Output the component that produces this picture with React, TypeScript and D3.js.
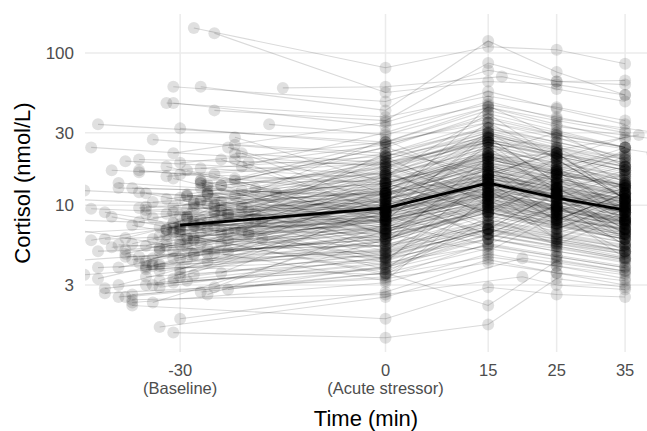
import React from 'react';
import * as d3 from 'd3';

// Baseline sampling time (min) per participant
const tBase = [
  -30,-28,-33,-25,-38,-22,-31,-27,-35,-20,
  -29,-41,-24,-32,-26,-36,-19,-30,-34,-23,
  -43,-28,-31,-21,-37,-27,-25,-33,-30,-17,
  -39,-26,-29,-35,-22,-31,-24,-42,-28,-32,
  -20,-34,-27,-30,-36,-25,-47,-29,-23,-38,
  -31,-26,-33,-28,-40,-21,-30,-35,-24,-27,
  -15,-32,-29,-37,-25,-44,-30,-22,-34,-28,
  -26,-31,-39,-23,-29,-36,-27,-50,-33,-24,
  -30,-19,-35,-28,-41,-26,-32,-22,-29,-37,
  -25,-31,-34,-27,-43,-30,-21,-38,-28,-33,
  -24,-29,-36,-26,-31,-18,-35,-27,-40,-30,
  -23,-32,-28,-37,-25,-45,-29,-34,-22,-31,
  -27,-39,-30,-24,-33,-26,-42,-28,-20,-35,
  -31,-25,-38,-29,-23,-32,-27,-36,-30,-16,
  -26,-34,-28,-41,-24,-31,-22,-37,-29,-33,
  -27,-44,-30,-25,-35,-21,-32,-28,-39,-26,
  -48,-31,-24,-34,-29,-37,-23,-30,-27,-33,
  -36,-25,-31,-42,-28,-20,-35,-26,-30,-32,
  -33,-27,-38,-22,-30,-41,-25,-35,-29,-19,
  -32,-24,-37,-28,-43,-26,-31,-21,-34,-29,
  -36,-23,-30,-40,-27,-33,-18,-31,-25,-39,
  -28,-35,-22,-32,-46,-26,-30,-37,-24,-29,
  -34,-20,-31,-27,-38,-25,-33,-42,-29,-23,
  -30,-36,-26,-32,-21,-39,-28,-35,-24,-31,
];

const cBase = [
  7.2,146,4.1,135,2.5,11.5,60,5.6,9.3,6.4,
  8.5,2.85,13.5,47,4.8,17.0,7.8,1.8,10.5,2.8,
  24,6.0,3.3,12.5,2.3,60,8.9,5.2,16.0,34,
  2.5,7.0,4.4,9.8,14.5,1.46,6.8,34,5.9,11.0,
  8.0,3.0,7.5,19.0,4.6,42,11.0,6.2,9.0,19.5,
  5.0,12.0,3.7,7.6,17.0,9.5,32,4.0,6.5,14.0,
  59,5.4,8.2,2.2,10.0,3.5,6.9,15.0,4.5,7.3,
  11.8,47,5.5,8.7,3.2,20.0,6.6,4.2,1.59,9.2,
  7.1,12.8,3.9,6.3,2.65,10.2,5.8,25.0,8.4,13.0,
  4.9,7.7,6.0,10.8,9.5,3.6,18.0,5.1,7.4,2.9,
  9.7,6.1,12.2,4.3,22.0,7.9,3.4,8.1,5.3,11.2,
  6.7,15.5,4.7,2.6,9.1,8.0,5.7,27.0,7.0,3.1,
  10.6,14.0,6.4,8.6,4.0,13.2,5.0,7.9,19.0,3.8,
  6.8,9.9,4.6,11.5,5.9,8.8,2.7,16.5,7.5,12.0,
  5.2,8.3,3.5,6.0,10.5,7.2,22.0,4.4,9.4,6.3,
  14.5,12.5,5.5,8.0,3.0,10.0,6.9,4.8,13.0,7.7,
  6.5,9.0,5.6,4.1,11.8,2.4,8.5,6.7,17.5,5.0,
  9.6,7.3,4.5,3.9,10.3,6.6,8.8,13.8,5.8,7.0,
  3.2,14.0,6.1,20.0,4.5,9.0,2.9,12.0,5.3,8.8,
  18.0,3.6,7.4,10.5,5.9,2.6,15.0,6.8,4.0,11.5,
  7.8,24.0,3.4,8.4,13.0,5.2,6.0,9.8,16.0,3.0,
  10.0,4.3,28.0,6.4,7.0,12.5,3.8,5.6,20.0,8.2,
  2.3,9.3,6.6,14.5,4.8,11.0,7.2,3.3,17.0,5.0,
  8.6,4.2,12.0,6.9,22.0,3.9,9.5,5.4,13.5,7.6,
];

const c0 = [
  9.5,80,5.8,55,3.6,14.0,48,8.2,10.5,12.0,
  7.2,4.5,18.0,38,6.5,12.0,15.5,2.7,13.5,4.0,
  18.0,7.8,4.9,21.0,3.1,42,9.8,7.0,20.0,29,
  3.9,11.0,4.9,8.8,24.0,1.35,9.0,26,6.2,16.5,
  13.0,4.2,7.0,26.0,6.0,36,9.0,10.0,12.5,16.0,
  5.5,10.5,5.5,12.0,14.0,17.0,25,3.5,8.6,14.5,
  60,8.0,9.4,1.8,12.5,5.0,6.5,26.0,7.2,10.0,
  15.0,33,4.5,11.5,3.8,18.5,9.7,6.0,2.5,14.0,
  8.4,20.0,5.2,7.5,3.3,11.0,9.0,22.0,10.8,11.5,
  7.4,12.5,5.4,13.0,8.0,6.0,30.0,7.3,8.0,4.6,
  15.5,8.3,9.5,5.8,35.0,10.4,4.3,13.5,6.8,14.0,
  10.0,19.0,6.3,3.4,11.0,6.8,8.8,21.0,11.5,3.9,
  12.0,11.0,9.3,9.0,6.6,17.5,5.4,10.6,25.0,4.4,
  8.0,16.0,5.0,13.8,9.5,7.8,3.6,21.0,9.2,18.0,
  7.6,12.0,4.8,7.0,9.2,11.0,19.0,6.1,13.0,8.1,
  16.0,10.0,8.6,10.2,4.1,17.5,7.7,6.9,11.8,11.8,
  8.5,10.0,8.0,5.1,19.0,2.6,13.0,7.9,15.0,6.7,
  12.2,9.6,6.4,4.7,14.5,10.8,8.4,22.0,7.8,9.0,
  9.5,6.5,16.0,9.0,11.0,4.5,7.5,5.8,14.0,22.0,
  8.0,10.0,3.6,18.0,12.0,6.0,7.0,15.0,11.5,5.2,
  16.5,12.0,9.0,4.0,24.0,13.5,3.8,17.0,7.5,8.5,
  5.0,12.5,14.0,15.5,3.2,6.5,10.5,14.0,9.0,4.2,
  6.8,20.0,3.5,8.0,12.0,5.5,19.0,9.0,8.5,13.0,
  4.4,11.0,6.0,21.0,10.0,8.8,4.6,16.0,6.5,27.0,
];

const c15 = [
  14.2,110,9.0,65,5.2,22.0,77,12.5,13.0,19.5,
  10.0,7.0,28.0,52,8.8,15.5,24.0,4.4,20.0,6.1,
  26.0,11.8,7.5,33.0,4.8,120,15.0,10.5,30.0,44,
  6.4,17.0,6.6,12.0,40.0,1.65,13.5,35,9.2,25.0,
  21.0,5.4,9.5,42.0,9.8,86,12.5,15.5,18.5,22.0,
  8.0,16.0,8.5,18.0,20.0,27.0,37,4.6,13.0,19.0,
  70,12.0,14.0,2.9,22.0,7.8,8.5,44.0,11.0,16.0,
  24.0,46,6.0,17.0,5.5,27.0,15.5,9.0,4.5,21.0,
  12.2,31.0,8.0,10.8,4.2,15.0,14.5,32.0,16.5,17.0,
  11.5,20.0,7.2,19.0,11.0,9.5,48.0,10.2,11.8,7.0,
  25.0,12.0,13.5,9.0,56.0,14.0,6.8,21.5,9.8,20.5,
  15.8,27.0,9.4,5.6,16.0,9.0,14.0,28.0,18.5,6.0,
  17.5,15.0,14.8,12.8,10.5,26.0,7.6,16.2,38.0,6.4,
  11.2,26.0,7.0,21.0,15.0,10.4,2.2,32.0,13.5,29.0,
  11.8,19.0,7.3,10.0,13.0,17.5,26.0,9.6,20.0,11.0,
  23.0,14.0,13.2,15.0,6.5,29.0,10.6,10.8,16.0,18.0,
  12.8,14.5,12.4,7.7,30.0,3.4,20.5,11.5,21.0,10.2,
  18.0,14.4,10.0,6.9,22.5,17.0,11.6,35.0,11.5,13.8,
  12.0,15.0,11.0,28.0,20.0,10.0,5.5,14.0,9.0,17.0,
  25.0,6.5,8.5,11.0,30.0,9.5,16.0,12.0,22.0,10.0,
  9.0,35.0,19.0,7.0,15.0,26.0,11.0,8.5,18.0,6.0,
  14.0,7.0,22.0,40.0,11.5,5.0,24.0,9.0,13.0,16.0,
  13.0,11.5,8.0,26.0,6.0,21.0,10.5,18.0,30.0,7.5,
  12.5,6.5,18.0,10.0,45.0,14.0,7.0,28.0,16.0,13.0,
];

const c25 = [
  11.8,105,7.5,62,4.4,17.5,65,9.8,11.0,15.0,
  8.6,5.6,22.0,44,7.4,13.2,18.5,3.6,16.5,5.0,
  21.0,9.5,6.2,26.0,4.0,75,12.5,8.4,23.0,36,
  5.3,13.5,5.8,10.0,31.0,3.3,11.0,29,7.8,20.0,
  16.5,4.6,8.2,33.0,8.0,65,10.5,12.2,15.0,18.0,
  6.8,13.0,7.0,14.5,16.0,21.0,29,4.0,10.4,16.0,
  58,9.6,11.5,2.6,17.0,6.5,7.2,34.0,9.0,12.8,
  19.0,38,5.2,13.8,4.6,22.0,12.4,7.3,4.2,16.5,
  10.0,24.0,6.6,9.0,3.6,12.8,11.5,26.0,13.2,14.0,
  9.3,16.0,6.2,15.4,9.2,7.6,37.0,8.5,9.8,5.8,
  19.5,9.8,11.3,7.4,43.0,11.8,5.6,17.0,8.0,16.8,
  12.6,22.0,7.7,4.7,13.0,7.6,11.0,24.0,14.6,5.0,
  14.2,12.5,11.8,10.6,8.5,21.0,6.4,12.9,30.0,5.4,
  9.3,20.5,6.0,16.8,12.0,8.8,4.3,25.0,11.0,23.0,
  9.5,15.0,6.0,8.3,10.9,14.0,21.5,7.8,16.0,9.2,
  19.0,11.6,10.6,12.2,5.4,22.5,8.9,8.7,13.4,14.4,
  10.4,11.8,10.0,6.3,23.5,3.0,16.2,9.4,17.5,8.3,
  14.6,11.6,8.2,5.7,18.0,13.5,9.7,27.5,9.4,11.2,
  16.0,9.0,13.0,14.0,22.0,6.5,9.0,20.0,7.0,11.0,
  18.0,10.0,5.5,16.0,17.0,13.0,9.5,20.0,13.0,7.0,
  14.0,20.0,11.0,10.0,24.0,12.0,6.0,15.0,10.0,9.0,
  8.0,12.0,30.0,20.0,7.0,8.5,12.0,16.0,8.0,22.0,
  6.0,17.0,12.0,15.0,10.0,13.0,18.0,8.0,21.0,11.5,
  7.5,10.0,11.0,17.0,28.0,8.0,12.0,14.0,22.0,9.0,
];

const c35 = [
  9.6,85,6.0,53,3.7,14.0,66,8.1,9.2,12.2,
  7.5,4.8,17.0,36,6.2,11.0,14.5,3.0,13.0,4.3,
  17.0,7.9,5.0,20.5,3.3,53,10.2,6.8,29,30,
  4.4,10.8,5.0,8.5,24.0,2.9,9.0,24,6.6,16.0,
  13.2,3.9,7.0,27.0,6.5,62,9.0,9.9,12.0,15.0,
  5.7,10.8,5.7,11.5,13.5,17.0,24,3.5,8.5,13.5,
  48,7.9,9.4,2.5,13.5,5.4,6.0,27.0,7.2,10.3,
  15.2,31,4.4,11.0,3.9,18.0,10.0,6.0,3.6,13.5,
  8.2,19.0,5.5,7.5,3.2,10.6,9.2,21.0,10.8,11.6,
  7.6,12.8,5.3,12.6,7.8,6.2,29.0,7.0,8.2,4.9,
  15.5,8.0,9.4,6.0,34.0,9.8,4.6,13.8,6.6,13.6,
  10.2,18.0,6.4,4.0,10.5,6.4,9.0,20.0,11.8,4.2,
  11.5,10.5,9.6,8.8,7.0,17.0,5.3,10.5,24.0,4.5,
  7.7,16.5,5.0,13.5,9.8,7.4,3.7,20.0,9.0,18.5,
  7.8,12.2,5.0,6.9,9.0,11.3,17.8,6.4,13.0,7.6,
  15.5,9.8,8.6,10.0,4.5,18.0,7.4,7.1,11.0,11.7,
  8.5,9.7,8.2,5.2,19.0,2.8,13.0,7.8,14.5,6.9,
  11.9,9.5,6.7,4.8,14.6,11.0,8.0,22.0,7.7,9.2,
  10.0,12.5,8.0,18.0,12.0,9.5,5.5,11.0,10.0,6.5,
  22.0,6.0,8.5,9.5,24.0,7.5,13.0,11.0,8.0,10.5,
  8.5,28.0,6.5,13.0,14.0,17.0,9.0,8.0,14.0,4.5,
  12.0,7.0,18.0,11.0,10.5,5.0,7.0,22.0,12.0,11.0,
  9.5,8.0,6.5,23.0,5.5,16.0,9.0,12.0,13.0,7.0,
  11.5,5.5,16.0,9.0,20.0,12.0,6.0,21.0,11.0,14.0,
];

// Participants sampled off-schedule: [participant index, actual time]
const shift15: [number, number][] = [[60, 17], [78, 20], [165, 20]];
const shift35: [number, number][] = [[28, 37], [43, 40], [96, 42], [177, 39]];

// Group mean trajectory
const meanTime = [-30, 0, 15, 25, 35];
const meanCortisol = [7.4, 9.6, 14.0, 11.2, 9.3];

// Axis ticks
const xTicks = [-30, 0, 15, 25, 35];
const xTickLabels = ['-30\n(Baseline)', '0\n(Acute stressor)', '15', '25', '35'];
const yTicks = [3, 10, 30, 100];

const W = 647;
const H = 431;
const P = { left: 85, right: 647, top: 14, bottom: 352 };
const FONT = '"Liberation Sans", Arial, Helvetica, sans-serif';

export default function App() {
  const x = d3.scaleLinear().domain([-43.9, 38.2]).range([P.left, P.right]);
  const y = d3.scaleLog().domain([1.089, 180.3]).range([P.bottom, P.top]);

  const subjects = tBase.map((tb, i) => {
    const s15 = shift15.find((s) => s[0] === i);
    const s35 = shift35.find((s) => s[0] === i);
    return [
      [tb, cBase[i]],
      [0, c0[i]],
      [s15 ? s15[1] : 15, c15[i]],
      [25, c25[i]],
      [s35 ? s35[1] : 35, c35[i]],
    ] as [number, number][];
  });

  const line = d3
    .line<[number, number]>()
    .x((d) => x(d[0]))
    .y((d) => y(d[1]));

  const meanPts = meanTime.map((t, i) => [t, meanCortisol[i]] as [number, number]);

  return (
    <svg
      width={W}
      height={H}
      style={{ position: 'absolute', left: 0, top: 0, background: '#fff' }}
      fontFamily={FONT}
    >
      <defs>
        <clipPath id="panel">
          <rect x={P.left} y={P.top} width={P.right - P.left} height={P.bottom - P.top} />
        </clipPath>
      </defs>
      <rect x={0} y={0} width={W} height={H} fill="#fff" />
      <g stroke="#ebebeb" strokeWidth={1.5}>
        {yTicks.map((t) => (
          <line key={'gy' + t} x1={P.left} x2={P.right} y1={y(t)} y2={y(t)} />
        ))}
        {xTicks.map((t) => (
          <line key={'gx' + t} x1={x(t)} x2={x(t)} y1={P.top} y2={P.bottom} />
        ))}
      </g>
      <g clipPath="url(#panel)">
        <g fill="none" stroke="#000" strokeOpacity={0.15} strokeWidth={1.1}>
          {subjects.map((s, i) => (
            <path key={'l' + i} d={line(s) || ''} />
          ))}
        </g>
        <g fill="#000" fillOpacity={0.12}>
          {subjects.map((s, i) =>
            s.map((p, j) => <circle key={'p' + i + '_' + j} cx={x(p[0])} cy={y(p[1])} r={6} />)
          )}
        </g>
        <path d={line(meanPts) || ''} fill="none" stroke="#000" strokeWidth={2.8} />
      </g>
      <g fontSize={17} fill="#4d4d4d" textAnchor="end">
        {yTicks.map((t) => (
          <text key={'ty' + t} x={74} y={y(t)} dy="0.36em">
            {String(t)}
          </text>
        ))}
      </g>
      <g fontSize={16.5} fill="#4d4d4d" textAnchor="middle">
        {xTicks.map((t, i) => {
          const parts = xTickLabels[i].split('\n');
          return (
            <text key={'tx' + t} x={x(t)} y={376}>
              {parts.map((p, k) => (
                <tspan key={k} x={x(t)} dy={k === 0 ? 0 : 17.5}>
                  {p}
                </tspan>
              ))}
            </text>
          );
        })}
      </g>
      <text x={(P.left + P.right) / 2} y={426} textAnchor="middle" fontSize={22} fill="#000">
        Time (min)
      </text>
      <text
        transform={`translate(30, ${(P.top + P.bottom) / 2}) rotate(-90)`}
        textAnchor="middle"
        fontSize={22}
        fill="#000"
      >
        Cortisol (nmol/L)
      </text>
    </svg>
  );
}
